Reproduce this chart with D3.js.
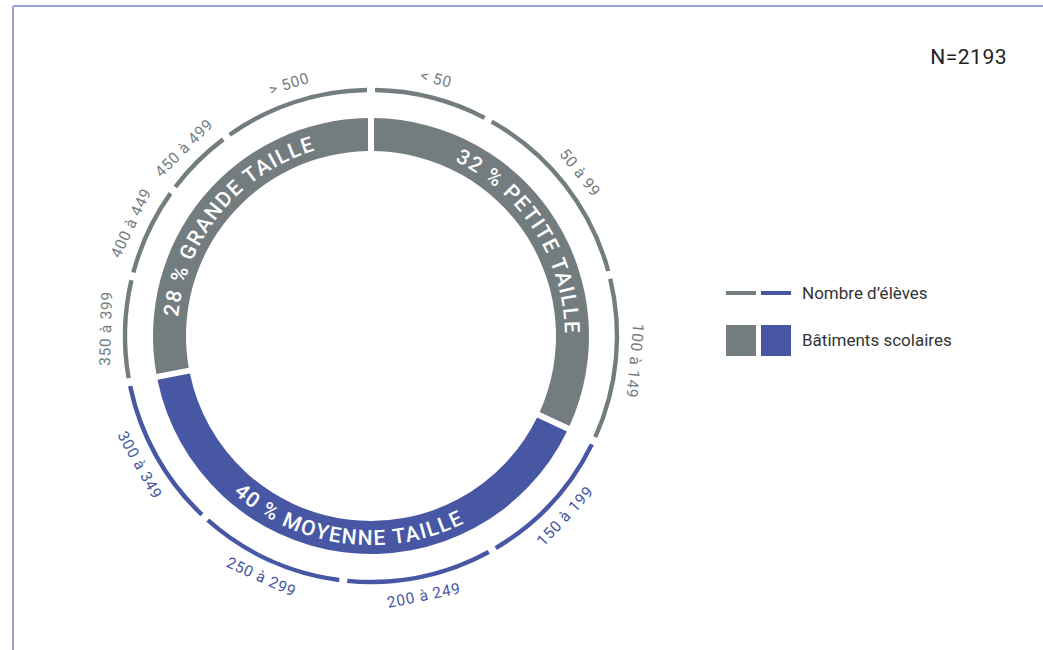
<!DOCTYPE html>
<html>
<head>
<meta charset="utf-8">
<script src="https://cdn.jsdelivr.net/npm/d3@7"></script>
<style>
  html, body { margin: 0; padding: 0; background: #fff; }
  svg { display: block; }
</style>
</head>
<body>
<svg id="chart" width="1043" height="650"></svg>
<script>
// ---- Data ----
const sizeCategories = ["PETITE TAILLE", "MOYENNE TAILLE", "GRANDE TAILLE"];
const sizeShares = [32, 40, 28];                 // % of school buildings
const studentBands = ["< 50", "50 à 99", "100 à 149", "150 à 199", "200 à 249", "250 à 299",
                      "300 à 349", "350 à 399", "400 à 449", "450 à 499", "> 500"];
const studentShares = [7.9, 13.1, 11.0, 9.8, 10.0, 10.0, 10.2, 6.9, 6.2, 4.9, 10.0];
const studentBandGroup = [0, 0, 0, 1, 1, 1, 1, 2, 2, 2, 2];   // index into sizeCategories
const totalN = "N=2193";
const legendItems = ["Nombre d’élèves", "Bâtiments scolaires"];

// ---- Styles ----
const GRAY = "#737d80", BLUE = "#4757a4";
const groupColor = [GRAY, BLUE, GRAY];
const FONT = "Roboto, 'DejaVu Sans', sans-serif";

const svg = d3.select("#chart");
const W = 1043, H = 650;

// frame lines
svg.append("line").attr("x1", 13).attr("x2", W).attr("y1", 6).attr("y2", 6)
  .attr("stroke", "#9aa0d4").attr("stroke-width", 2);
svg.append("line").attr("x1", 13).attr("x2", 13).attr("y1", 6).attr("y2", H)
  .attr("stroke", "#9aa0d4").attr("stroke-width", 2);

const cx = 371, cy = 336;
const defs = svg.append("defs");
const g = svg.append("g").attr("transform", `translate(${cx},${cy})`);

// ---- Inner donut ----
const rIn = 185, rOut = 218;
const pieSize = d3.pie().sort(null).value(d => d)(sizeShares);
const arcSize = d3.arc().innerRadius(rIn).outerRadius(rOut).padRadius(200).padAngle(6 / 200);
g.selectAll("path.size").data(pieSize).join("path")
  .attr("class", "size")
  .attr("d", arcSize)
  .attr("fill", (d, i) => groupColor[i]);

// ---- Outer ring ----
const rRing = 246;
const pieBands = d3.pie().sort(null).value(d => d)(studentShares);
const arcRing = d3.arc().innerRadius(rRing - 2.2).outerRadius(rRing + 2.2)
  .padRadius(rRing).padAngle(8 / rRing);
g.selectAll("path.band").data(pieBands).join("path")
  .attr("class", "band")
  .attr("d", arcRing)
  .attr("fill", (d, i) => groupColor[studentBandGroup[i]]);

// band labels
const rLab = 265;
const deg = a => a * 180 / Math.PI;
g.selectAll("text.band").data(pieBands).join("text")
  .attr("class", "band")
  .attr("transform", d => {
    const a = (d.startAngle + d.endAngle) / 2;
    const x = rLab * Math.sin(a), y = -rLab * Math.cos(a);
    const ad = deg(a);
    let rot = ad;
    if (ad > 100 && ad < 260) rot = ad - 180;
    return `translate(${x},${y}) rotate(${rot})`;
  })
  .attr("text-anchor", "middle")
  .attr("dominant-baseline", "central")
  .attr("font-family", FONT)
  .attr("font-size", 15.5)
  .attr("letter-spacing", 0.7)
  .attr("fill", (d, i) => groupColor[studentBandGroup[i]])
  .text((d, i) => studentBands[i]);

// ---- Curved labels in donut ----
const rMid = (rIn + rOut) / 2;
const fs = 21;
const pt = (r, a) => [r * Math.sin(a), -r * Math.cos(a)];
pieSize.forEach((d, i) => {
  const mid = (d.startAngle + d.endAngle) / 2;
  const midDeg = deg(mid);
  const flip = midDeg > 100 && midDeg < 260;
  const r = flip ? rMid + fs * 0.36 : rMid - fs * 0.36;
  const a0 = d.startAngle - 0.3, a1 = d.endAngle + 0.3;
  const large = (a1 - a0) > Math.PI ? 1 : 0;
  let p;
  if (!flip) {
    const s = pt(r, a0), e = pt(r, a1);
    p = `M${s[0]},${s[1]} A${r},${r} 0 ${large} 1 ${e[0]},${e[1]}`;
  } else {
    const s = pt(r, a1), e = pt(r, a0);
    p = `M${s[0]},${s[1]} A${r},${r} 0 ${large} 0 ${e[0]},${e[1]}`;
  }
  defs.append("path").attr("id", "lp" + i).attr("d", p);
  g.append("text")
    .attr("font-family", FONT)
    .attr("font-size", fs)
    .attr("font-weight", 500)
    .attr("letter-spacing", 1.5)
    .attr("fill", "#fff")
    .append("textPath")
    .attr("href", "#lp" + i)
    .attr("startOffset", "50%")
    .attr("text-anchor", "middle")
    .text(`${sizeShares[i]} % ${sizeCategories[i]}`);
});

// ---- N label ----
svg.append("text").attr("x", 1007).attr("y", 64)
  .attr("text-anchor", "end")
  .attr("font-family", FONT).attr("font-size", 21)
  .attr("letter-spacing", 0.5)
  .attr("fill", "#222").text(totalN);

// ---- Legend ----
const lg = svg.append("g");
lg.append("rect").attr("x", 726).attr("y", 291).attr("width", 30).attr("height", 4).attr("fill", GRAY);
lg.append("rect").attr("x", 761).attr("y", 291).attr("width", 30).attr("height", 4).attr("fill", BLUE);
lg.append("rect").attr("x", 726).attr("y", 325).attr("width", 30).attr("height", 31).attr("fill", GRAY);
lg.append("rect").attr("x", 761).attr("y", 325).attr("width", 30).attr("height", 31).attr("fill", BLUE);
lg.append("text").attr("x", 802).attr("y", 299)
  .attr("font-family", FONT).attr("font-size", 17).attr("fill", "#333").text(legendItems[0]);
lg.append("text").attr("x", 802).attr("y", 346)
  .attr("font-family", FONT).attr("font-size", 17).attr("fill", "#333").text(legendItems[1]);
</script>
</body>
</html>
